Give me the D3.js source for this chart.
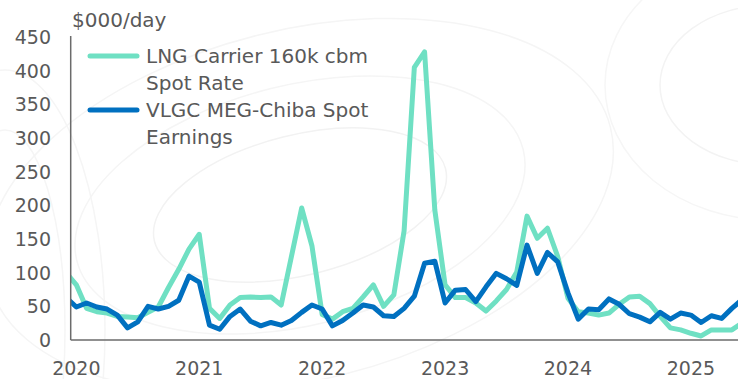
<!DOCTYPE html>
<html>
<head>
<meta charset="utf-8">
<script src="https://cdn.jsdelivr.net/npm/d3@7"></script>
<style>
  html, body { margin: 0; padding: 0; background: #fff; }
  svg { display: block; font-family: "DejaVu Sans", sans-serif; }
</style>
</head>
<body>
<svg id="chart" width="738" height="379"></svg>
<script>
// Monthly observations, Dec 2019 through Jun 2025 ($000/day)
const startMonth = new Date(2019, 11, 1);
const lngSpot = [
  100, 82, 47, 42, 40, 35, 34, 33, 41, 49, 78, 105, 135,
  157, 47, 32, 52, 63, 64, 63, 64, 52, 124, 196, 140,
  38, 31, 42, 47, 64, 82, 50, 67, 162, 405, 428, 193,
  82, 63, 63, 55, 43, 58, 75, 101, 184, 151, 166, 124,
  62, 42, 40, 37, 40, 53, 64, 65, 54, 35, 18, 15,
  10, 6, 15, 15, 15, 25
];
const vlgcSpot = [
  63, 49, 55, 49, 46, 37, 18, 27, 50, 46, 50, 59, 95,
  86, 22, 16, 35, 46, 28, 21, 26, 22, 29, 41, 52,
  46, 21, 29, 40, 52, 49, 36, 35, 47, 65, 114, 117,
  55, 74, 75, 57, 79, 99, 91, 81, 141, 99, 130, 116,
  70, 31, 46, 45, 61, 53, 39, 34, 27, 41, 31, 40,
  37, 26, 36, 32, 47, 60
];
const yTicks = [0, 50, 100, 150, 200, 250, 300, 350, 400, 450];
const yearLabels = ["2020", "2021", "2022", "2023", "2024", "2025"];
const seriesNames = [
  ["LNG Carrier 160k cbm", "Spot Rate"],
  ["VLGC MEG-Chiba Spot", "Earnings"]
];
const seriesColors = ["#6fe0c3", "#0070c0"];
const unitLabel = "$000/day";

const svg = d3.select("#chart");
const W = 738, H = 379;
const plot = { left: 70.7, right: 738, top: 37, bottom: 340 };
const textColor = "#595959";
const axisColor = "#6b6b6b";

// Month offsets relative to Jan 2020
const months = d3.range(lngSpot.length).map(i => d3.timeMonth.offset(startMonth, i));
const monthIndex = d => d3.timeMonth.count(new Date(2020, 0, 1), d);

const x = d3.scaleLinear().domain([-0.55, 64.6]).range([plot.left, plot.right]);
const y = d3.scaleLinear().domain([0, 450]).range([plot.bottom, plot.top]);

// Faint decorative contour rings in the background
const deco = svg.append("g").attr("fill", "none").attr("stroke", "#f3f3f3").attr("stroke-width", 1.5);
deco.append("ellipse").attr("cx", 770).attr("cy", 85).attr("rx", 110).attr("ry", 80);
deco.append("ellipse").attr("cx", 770).attr("cy", 85).attr("rx", 165).attr("ry", 135).attr("stroke", "#f6f6f6");
[[150, 70], [230, 120], [320, 175]].forEach(([rx, ry], k) => {
  deco.append("ellipse")
    .attr("cx", 300).attr("cy", 205)
    .attr("rx", rx).attr("ry", ry)
    .attr("transform", "rotate(-14 300 205)")
    .attr("stroke", k === 0 ? "#f2f2f2" : "#f5f5f5");
});
[[60, 200], [100, 260]].forEach(([rx, ry]) => {
  deco.append("ellipse").attr("cx", 5).attr("cy", 330).attr("rx", rx).attr("ry", ry).attr("stroke", "#f5f5f5");
});

// Y tick labels
svg.append("g")
  .selectAll("text")
  .data(yTicks)
  .join("text")
  .attr("x", 51)
  .attr("y", d => y(d))
  .attr("dy", "0.36em")
  .attr("text-anchor", "end")
  .attr("fill", textColor)
  .attr("font-size", 19)
  .text(d => d);

// Unit label
svg.append("text")
  .attr("x", 72).attr("y", 27)
  .attr("fill", textColor)
  .attr("font-size", 20)
  .text(unitLabel);

// Year labels on the January of each year
svg.append("g")
  .selectAll("text")
  .data(yearLabels)
  .join("text")
  .attr("x", (d, i) => x(i * 12))
  .attr("y", 375)
  .attr("text-anchor", "middle")
  .attr("fill", textColor)
  .attr("font-size", 19)
  .text(d => d);

// Clip lines to the plot area
svg.append("defs").append("clipPath").attr("id", "plotClip")
  .append("rect")
  .attr("x", plot.left).attr("y", 0)
  .attr("width", plot.right - plot.left).attr("height", H);

const line = d3.line()
  .x(d => x(monthIndex(d.date)))
  .y(d => y(d.value))
  .curve(d3.curveLinear);

const series = [lngSpot, vlgcSpot].map(vals => vals.map((v, i) => ({ date: months[i], value: v })));

const lines = svg.append("g").attr("clip-path", "url(#plotClip)");
series.forEach((s, k) => {
  lines.append("path")
    .datum(s)
    .attr("fill", "none")
    .attr("stroke", seriesColors[k])
    .attr("stroke-width", 5)
    .attr("stroke-linejoin", "round")
    .attr("d", line);
});

// Axes lines
svg.append("line")
  .attr("x1", plot.left).attr("x2", plot.left)
  .attr("y1", plot.top - 1).attr("y2", plot.bottom)
  .attr("stroke", axisColor).attr("stroke-width", 1.5);
svg.append("line")
  .attr("x1", plot.left).attr("x2", plot.right)
  .attr("y1", plot.bottom).attr("y2", plot.bottom)
  .attr("stroke", axisColor).attr("stroke-width", 1.5);

// Legend
const legend = svg.append("g");
seriesNames.forEach((lines2, k) => {
  const top = 56 + k * 54;
  legend.append("line")
    .attr("x1", 90).attr("x2", 137)
    .attr("y1", top).attr("y2", top)
    .attr("stroke", seriesColors[k])
    .attr("stroke-width", 5)
    .attr("stroke-linecap", "round");
  lines2.forEach((t, j) => {
    legend.append("text")
      .attr("x", 146)
      .attr("y", top + 7 + j * 27)
      .attr("fill", textColor)
      .attr("font-size", 20)
      .text(t);
  });
});
</script>
</body>
</html>
